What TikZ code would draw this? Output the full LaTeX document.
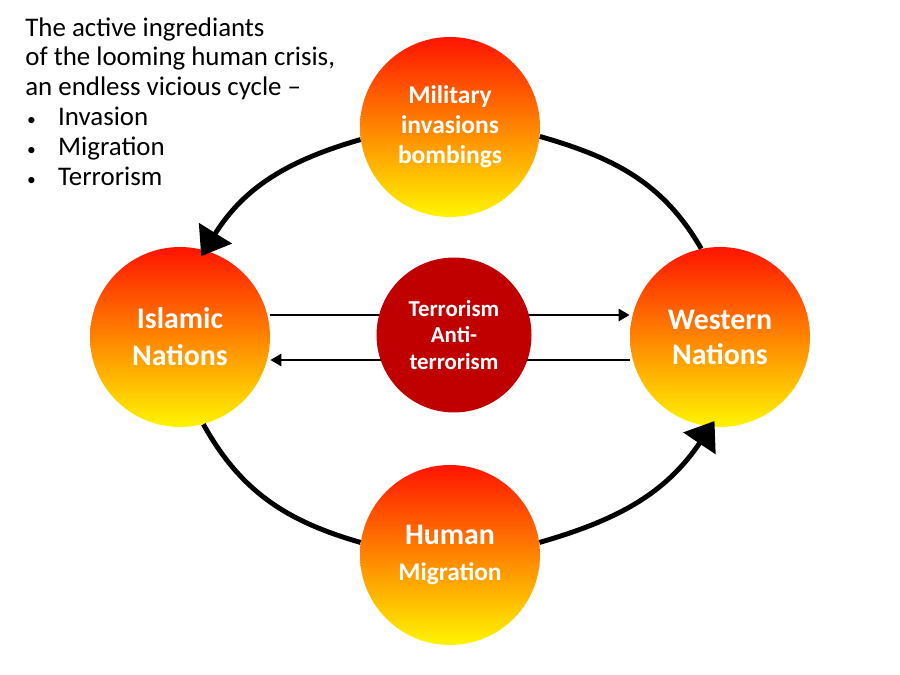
\documentclass[tikz,border=0pt]{standalone}
\usepackage{fontspec}
\setmainfont{Carlito}
\usetikzlibrary{arrows.meta}
\definecolor{hotred}{RGB}{255,20,0}
\definecolor{hotorange}{RGB}{255,175,0}
\definecolor{hotyellow}{RGB}{255,245,0}
\definecolor{darkred}{RGB}{192,0,0}
\tikzset{
  ball/.style={circle, minimum size=3.6cm, inner sep=0pt, align=center,
    top color=hotred, middle color=hotorange, bottom color=hotyellow,
    text=white, font=\bfseries},
  core/.style={circle, minimum size=3.1cm, inner sep=0pt, align=center,
    fill=darkred, text=white, font=\bfseries\fontsize{13}{15.3}\selectfont},
  cycle/.style={line width=2.8pt},
  cycarrow/.style={cycle, -{Triangle[length=0.54cm,width=0.76cm]}, shorten >=-4pt},
  tiearrow/.style={line width=1.7pt, -{Triangle[length=0.22cm,width=0.24cm]}}
}
\newcommand{\listdot}{\makebox[18.7pt][l]{\hspace{1pt}{\fontsize{10}{10}\selectfont\textbullet}}}
\begin{document}
\begin{tikzpicture}
\useasboundingbox (0,0) rectangle (18,13.5);
% text block
\node[anchor=north west, align=left, inner sep=0pt,
  font=\fontsize{15.3}{17}\selectfont] (intro) at (0.5,13.16)
  {The active ingrediants\\
   of the looming human crisis,\\
   an endless vicious cycle --\\
   \listdot Invasion\\
   \listdot Migration\\
   \listdot Terrorism};
% the four parties
\node[ball, font=\bfseries\fontsize{14.5}{17}\selectfont] (mil) at (9.0,10.96)
  {Military\\invasions\\bombings};
\node[ball, font=\bfseries\fontsize{17}{21}\selectfont] (isl) at (3.6,6.76)
  {Islamic\\Nations};
\node[ball, font=\bfseries\fontsize{17}{20}\selectfont] (wst) at (14.4,6.76)
  {Western\\Nations};
\node[ball, font=\bfseries\fontsize{17}{20}\selectfont] (hum) at (9.0,2.4)
  {Human\\{\fontsize{14.4}{20}\selectfont Migration}};
% middle exchange
\draw[tiearrow] ([yshift=0.44cm]isl.east) -- ([yshift=0.44cm]wst.west);
\draw[tiearrow] ([yshift=-0.46cm]wst.west) -- ([yshift=-0.46cm]isl.east);
\node[core] (ter) at (9.08,6.8) {Terrorism\\Anti-\\terrorism};
% the cycle
\draw[cycarrow] (mil.188) to[out=196,in=58] (isl.74);
\draw[cycle] (mil.-6) to[out=-16,in=120] (wst.102);
\draw[cycle] (isl.-75) to[out=-61,in=164] (hum.172);
\draw[cycarrow] (hum.8) to[out=16,in=-124] (wst.-96);
\end{tikzpicture}
\end{document}
